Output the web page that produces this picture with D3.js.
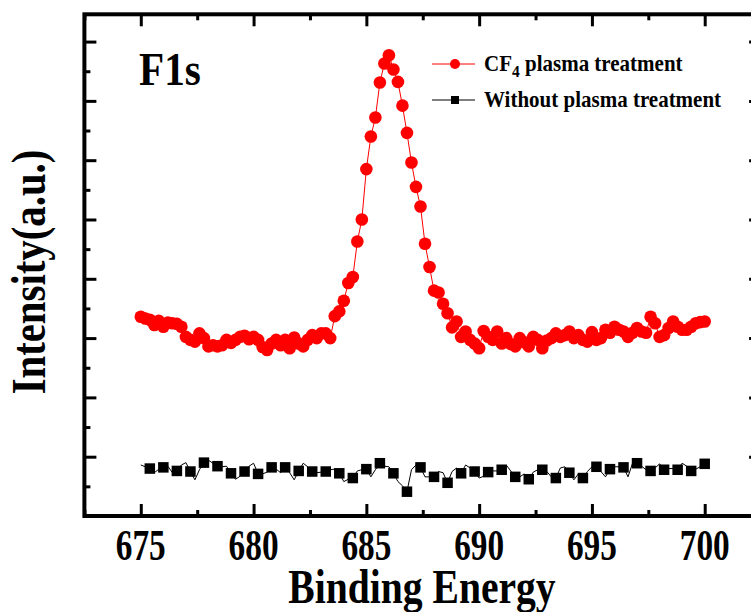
<!DOCTYPE html>
<html>
<head>
<meta charset="utf-8">
<script src="https://cdn.jsdelivr.net/npm/d3@7"></script>
<style>
  html, body { margin: 0; padding: 0; background: #fff; }
  svg { display: block; }
  text { font-family: "Liberation Serif", "Times New Roman", serif; font-weight: bold; fill: #000; }
</style>
</head>
<body>
<svg id="chart" width="751" height="612"></svg>
<script>
// Binding energy grid (eV)
const energy = [
  675.0,675.2,675.4,675.6,675.8,676.0,676.2,676.4,676.6,676.8,
  677.0,677.2,677.4,677.6,677.8,678.0,678.2,678.4,678.6,678.8,
  679.0,679.2,679.4,679.6,679.8,680.0,680.2,680.4,680.6,680.8,
  681.0,681.2,681.4,681.6,681.8,682.0,682.2,682.4,682.6,682.8,
  683.0,683.2,683.4,683.6,683.8,684.0,684.2,684.4,684.6,684.8,
  685.0,685.2,685.4,685.6,685.8,686.0,686.2,686.4,686.6,686.8,
  687.0,687.2,687.4,687.6,687.8,688.0,688.2,688.4,688.6,688.8,
  689.0,689.2,689.4,689.6,689.8,690.0,690.2,690.4,690.6,690.8,
  691.0,691.2,691.4,691.6,691.8,692.0,692.2,692.4,692.6,692.8,
  693.0,693.2,693.4,693.6,693.8,694.0,694.2,694.4,694.6,694.8,
  695.0,695.2,695.4,695.6,695.8,696.0,696.2,696.4,696.6,696.8,
  697.0,697.2,697.4,697.6,697.8,698.0,698.2,698.4,698.6,698.8,
  699.0,699.2,699.4,699.6,699.8,700.0
];

// F1s intensity after CF4 plasma treatment (a.u.)
const cf4Treated = [
  3.36,3.33,3.31,3.22,3.29,3.19,3.26,3.25,3.24,3.19,
  3.02,2.97,2.94,3.08,3.00,2.86,2.88,2.86,2.88,2.97,
  2.92,2.97,3.02,3.04,2.98,3.02,2.97,2.85,2.80,2.91,
  2.97,2.88,2.97,2.83,3.01,2.91,2.86,2.97,3.05,3.00,
  3.08,3.08,3.00,3.37,3.45,3.63,3.93,4.03,4.63,5.00,
  5.85,6.40,6.72,7.31,7.63,7.77,7.53,7.32,6.92,6.46,
  5.96,5.55,5.22,4.59,4.20,3.80,3.77,3.58,3.42,3.18,
  3.28,3.02,3.11,2.97,2.91,2.83,3.12,3.02,2.97,3.11,
  2.91,3.00,2.90,2.86,3.00,2.93,2.86,3.02,2.97,2.83,
  2.96,3.00,3.08,3.02,3.05,3.11,3.00,3.05,2.97,2.94,
  3.10,2.97,3.00,3.14,3.09,3.19,3.14,3.11,3.02,3.09,
  3.17,3.11,3.09,3.36,3.25,3.02,3.05,3.17,3.28,3.19,
  3.14,3.14,3.19,3.25,3.27,3.28
];

// F1s intensity without plasma treatment (a.u.)
const untreated = [
  0.86,0.83,0.80,0.73,0.79,0.82,0.84,0.73,0.76,0.86,
  0.90,0.75,0.61,0.78,0.90,0.94,0.89,0.84,0.83,0.84,
  0.72,0.62,0.67,0.75,0.84,0.89,0.71,0.71,0.74,0.82,
  0.79,0.73,0.82,0.73,0.61,0.76,0.89,0.83,0.75,0.73,
  0.74,0.75,0.78,0.79,0.72,0.58,0.62,0.64,0.76,0.78,
  0.79,0.66,0.78,0.89,0.84,0.83,0.72,0.58,0.51,0.41,
  0.78,0.86,0.82,0.66,0.66,0.66,0.75,0.73,0.56,0.75,
  0.81,0.72,0.86,0.81,0.75,0.64,0.67,0.74,0.76,0.76,
  0.78,0.86,0.76,0.66,0.66,0.71,0.62,0.74,0.78,0.78,
  0.75,0.66,0.64,0.81,0.83,0.73,0.61,0.71,0.64,0.75,
  0.83,0.83,0.75,0.66,0.79,0.83,0.83,0.82,0.66,0.89,
  0.89,0.84,0.78,0.76,0.81,0.88,0.78,0.80,0.80,0.78,
  0.89,0.84,0.76,0.79,0.83,0.88
];

const xMajorTicks = [675, 680, 685, 690, 695, 700];
const xMinorTicks = [672.5, 677.5, 682.5, 687.5, 692.5, 697.5, 702.5];
const yMajorTicks = [1, 2, 3, 4, 5, 6, 7, 8];
const yMinorTicks = [0.5, 1.5, 2.5, 3.5, 4.5, 5.5, 6.5, 7.5];

const seriesNames = ["CF", "4", " plasma treatment", "Without plasma treatment"];

const svg = d3.select("#chart");

const plotLeft = 84.4, plotRight = 761.1, plotTop = 14.3, plotBottom = 516;
const x = d3.scaleLinear().domain([672.5, 702.5]).range([plotLeft, plotRight]);
const y = d3.scaleLinear().domain([0, 8.46]).range([plotBottom, plotTop]);

// Tick marks on all four sides, pointing into the plot
function ticks(axisFn, pos, values, size) {
  const g = svg.append("g")
    .attr("transform", pos)
    .call(axisFn.tickValues(values).tickSize(-size).tickFormat(""));
  g.select(".domain").remove();
  g.selectAll(".tick line").attr("stroke", "#000").attr("stroke-width", 3);
  g.selectAll(".tick text").remove();
}
ticks(d3.axisBottom(x), `translate(0,${plotBottom})`, xMajorTicks, 12);
ticks(d3.axisBottom(x), `translate(0,${plotBottom})`, xMinorTicks, 6);
ticks(d3.axisTop(x), `translate(0,${plotTop})`, xMajorTicks, 12);
ticks(d3.axisTop(x), `translate(0,${plotTop})`, xMinorTicks, 6);
ticks(d3.axisLeft(y), `translate(${plotLeft},0)`, yMajorTicks, 12);
ticks(d3.axisLeft(y), `translate(${plotLeft},0)`, yMinorTicks, 6);
ticks(d3.axisRight(y), `translate(${plotRight},0)`, yMajorTicks, 12);
ticks(d3.axisRight(y), `translate(${plotRight},0)`, yMinorTicks, 6);

// Frame
svg.append("rect")
  .attr("x", plotLeft).attr("y", plotTop)
  .attr("width", plotRight - plotLeft).attr("height", plotBottom - plotTop)
  .attr("fill", "none").attr("stroke", "#000").attr("stroke-width", 4);

// X tick labels (tall, narrow serif digits)
svg.append("g").selectAll("text")
  .data(xMajorTicks)
  .join("text")
  .attr("transform", d => `translate(${x(d)},560) scale(0.9,1.2)`)
  .attr("text-anchor", "middle")
  .attr("font-size", 37)
  .text(d => d);

// Axis titles
svg.append("text")
  .attr("transform", "translate(422,603) scale(0.99,1.19)")
  .attr("text-anchor", "middle")
  .attr("font-size", 40)
  .text("Binding Energy");

svg.append("text")
  .attr("transform", "translate(45,272) rotate(-90) scale(1.02,1.2)")
  .attr("text-anchor", "middle")
  .attr("font-size", 40)
  .text("Intensity(a.u.)");

svg.append("text")
  .attr("transform", "translate(139,85) scale(1.03,1.15)")
  .attr("font-size", 40)
  .text("F1s");

const line = d3.line().x((d, i) => x(energy[i])).y(d => y(d));

// Without plasma treatment: thin line, square marker on every third point
svg.append("path")
  .datum(untreated)
  .attr("d", line)
  .attr("fill", "none").attr("stroke", "#000").attr("stroke-width", 1);

const sq = 10.5;
svg.append("g").selectAll("rect")
  .data(untreated.map((v, i) => ({ e: energy[i], v })).filter((d, i) => i % 3 === 2))
  .join("rect")
  .attr("x", d => x(d.e) - sq / 2)
  .attr("y", d => y(d.v) - sq / 2)
  .attr("width", sq).attr("height", sq)
  .attr("fill", "#000");

// CF4 plasma treatment: red line with circles on every point
svg.append("path")
  .datum(cf4Treated)
  .attr("d", line)
  .attr("fill", "none").attr("stroke", "#ff0000").attr("stroke-width", 1);

svg.append("g").selectAll("circle")
  .data(cf4Treated.map((v, i) => ({ e: energy[i], v })))
  .join("circle")
  .attr("cx", d => x(d.e))
  .attr("cy", d => y(d.v))
  .attr("r", 6.3)
  .attr("fill", "#ff0000");

// Legend
const lg = svg.append("g");
lg.append("line").attr("x1", 432).attr("x2", 475).attr("y1", 64).attr("y2", 64)
  .attr("stroke", "#ff0000").attr("stroke-width", 1);
lg.append("circle").attr("cx", 455).attr("cy", 64).attr("r", 5).attr("fill", "#ff0000");
const t1 = lg.append("text").attr("transform", "translate(484,71) scale(1.0,1.1)").attr("font-size", 21);
t1.append("tspan").text(seriesNames[0]);
t1.append("tspan").attr("dy", 5).attr("font-size", 15.5).text(seriesNames[1]);
t1.append("tspan").attr("dy", -5).text(seriesNames[2]);

lg.append("line").attr("x1", 432).attr("x2", 475).attr("y1", 100).attr("y2", 100)
  .attr("stroke", "#000").attr("stroke-width", 1);
lg.append("rect").attr("x", 451).attr("y", 96).attr("width", 8).attr("height", 8).attr("fill", "#000");
lg.append("text").attr("transform", "translate(484,107) scale(1.0,1.1)").attr("font-size", 21).text(seriesNames[3]);
</script>
</body>
</html>
